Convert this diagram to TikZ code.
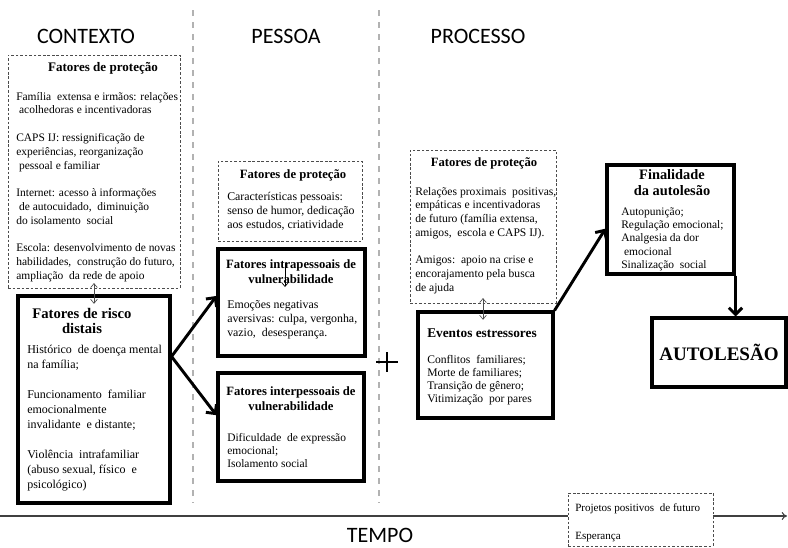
\documentclass[tikz,border=0pt]{standalone}
\usepackage{fontspec}
\setmainfont{Liberation Serif}
\newfontfamily\headfont{Carlito}
\usetikzlibrary{arrows.meta,fit}

\newcommand{\linesl}[1]{\begin{tabular}[t]{@{}l@{}}#1\end{tabular}}
\newcommand{\linesc}[1]{\begin{tabular}[t]{@{}c@{}}#1\end{tabular}}

\tikzset{
  protbox/.style={draw=black!70,dash pattern=on 2pt off 1.4pt,line width=0.6pt,inner sep=0pt},
  riskbox/.style={draw=black,line width=2.3pt,inner sep=0pt},
  head/.style={font=\headfont\fontsize{16.5}{18}\selectfont,text=black,inner sep=0pt},
  boxtitle/.style={font=\bfseries\fontsize{9.5}{11.25}\selectfont,anchor=base,inner sep=0pt},
  boxtext/.style={font=\fontsize{8.6}{10.35}\selectfont,anchor=base west,inner sep=0pt},
  bigarrow/.style={line width=2.2pt,-{Straight Barb[length=5pt,width=10pt]}},
  linkarrow/.style={line width=0.5pt,black!70,{Straight Barb[length=3pt,width=5pt]}-{Straight Barb[length=3pt,width=5pt]}},
  divider/.style={black!30,line width=0.8pt,dash pattern=on 4.5pt off 4.5pt},
}

\begin{document}
\begin{tikzpicture}[x=0.75pt,y=-0.75pt]
    \useasboundingbox (0,0) rectangle (788,547);

    % Separation
    \draw [divider] (193,10) to (193,503);
    \draw [divider] (379,10) to (379,503);
    \node (hctx) at (86,36) [head] {CONTEXTO};
    \node (hpes) at (286,36) [head] {PESSOA};
    \node (hproc) at (478,36) [head] {PROCESSO};

    % Context: protection
    \node [protbox,fit={(8,55) (180,288)}] (ctxprot) {};
    \node at (103,71) [boxtitle,font=\bfseries\fontsize{9.8}{11.25}\selectfont] {Fatores de proteção};
    \node at (16,100) [boxtext] {\linesl{%
      Família\ \ extensa e irmãos: relações\\
      \ acolhedoras e incentivadoras\\
      \\
      CAPS IJ: ressignificação de\\
      experiências, reorganização\\
      \ pessoal e familiar\\
      \\
      Internet: acesso à informações\\
      \ de autocuidado,\ \ diminuição\\
      do isolamento\ \ social\\
      \\
      Escola: desenvolvimento de novas\\
      habilidades,\ \ construção do futuro,\\
      ampliação\ \ da rede de apoio}};

    % Context: risk
    \node [riskbox,fit={(18,296) (170,503)}] (ctxrisk) {};
    \node at (82,318) [boxtitle,font=\bfseries\fontsize{11}{11.25}\selectfont] {\linesc{Fatores de risco\\distais}};
    \node at (27,353) [boxtext,font=\fontsize{9}{11.25}\selectfont] {\linesl{%
      Histórico\ \ de doença mental\\
      na família;\\
      \\
      Funcionamento\ \ familiar\\
      emocionalmente\\
      invalidante\ \ e distante;\\
      \\
      Violência\ \ intrafamiliar\\
      (abuso sexual,\ físico\ \ e\\
      psicológico)}};
    \draw [linkarrow,shorten <=-4pt,shorten >=-7pt] (ctxprot.south) to (ctxprot.south |- ctxrisk.north);

    % Person: protection
    \node [protbox,fit={(218,161) (362,241)}] (pesprot) {};
    \node at (293,178) [boxtitle] {Fatores de proteção};
    \node at (227,200) [boxtext,font=\fontsize{8.9}{10.5}\selectfont] {\linesl{%
      Características pessoais:\\
      senso de humor, dedicação\\
      aos estudos, criatividade}};

    % Person: intrapersonal
    \node [riskbox,fit={(218,249) (365,356)}] (intra) {};
    \node at (291,268) [boxtitle] {\linesc{Fatores intrapessoais de\\vulnerabilidade}};
    \node at (227,308) [boxtext,font=\fontsize{8.9}{10.5}\selectfont] {\linesl{%
      Emoções negativas\\
      aversivas: culpa, vergonha,\\
      vazio,\ \ desesperança.}};
    \coordinate (intrarrow) at (285,263);
    \draw [line width=0.5pt,-{Straight Barb[length=3pt,width=5pt]}] (intrarrow) to ++(0,24);

    % Person: interpersonal
    \node [riskbox,fit={(218,373) (364,481)}] (inter) {};
    \node at (291,395) [boxtitle] {\linesc{Fatores interpessoais de\\vulnerabilidade}};
    \node at (227,441) [boxtext,font=\fontsize{8.6}{10.1}\selectfont] {\linesl{%
      Dificuldade\ \ de expressão\\
      emocional;\\
      Isolamento social}};

    \draw [bigarrow] (ctxrisk.29) to (intra.175);
    \draw [bigarrow] (ctxrisk.29) to (inter.171);

    % Plus
    \coordinate (plus) at (387,362);
    \draw [line width=2.2pt] (plus) ++(-11,0) to ++(22,0);
    \draw [line width=2.2pt] (plus) ++(0,-10) to ++(0,20);

    % Process: protection
    \node [protbox,fit={(410,150) (556,303)}] (procprot) {};
    \node at (484,166) [boxtitle] {Fatores de proteção};
    \node at (415,195) [boxtext,font=\fontsize{8.7}{10.3}\selectfont] {\linesl{%
      Relações proximais\ \ positivas,\\
      empáticas e incentivadoras\\
      de futuro (família extensa,\\
      amigos,\ \ escola e CAPS IJ).\\
      \\
      Amigos:\ \ apoio na crise e\\
      encorajamento pela busca\\
      de ajuda}};

    % Process: stressors
    \node [riskbox,fit={(418,312) (553,418)}] (events) {};
    \node at (482,337) [boxtitle,font=\bfseries\fontsize{10}{11}\selectfont] {Eventos estressores};
    \node at (427,363) [boxtext,font=\fontsize{8.7}{9.75}\selectfont] {\linesl{%
      Conflitos\ \ familiares;\\
      Morte de familiares;\\
      Transição de gênero;\\
      Vitimização\ \ por pares}};
    \draw [linkarrow,shorten <=-4pt,shorten >=-7pt] (procprot.south) to (procprot.south |- events.north);

    % Purpose
    \node [riskbox,fit={(607,165) (734,274)}] (purpose) {};
    \node at (672,179) [boxtitle,font=\bfseries\fontsize{10.8}{12}\selectfont] {\linesc{Finalidade\\da autolesão}};
    \node at (621,215) [boxtext,font=\fontsize{8.6}{10}\selectfont] {\linesl{%
      Autopunição;\\
      Regulação emocional;\\
      Analgesia da dor\\
      \ emocional\\
      Sinalização\ \ social}};
    \draw [bigarrow] (events.north east) to (purpose.188);

    % Self-harm
    \node [riskbox,fit={(652,318) (786,387)}] (selfharm) {};
    \node at (selfharm.center) [font=\bfseries\fontsize{14.3}{16}\selectfont] {AUTOLESÃO};
    \draw [bigarrow] (purpose.south east) to (purpose.south east |- selfharm.north);

    % Time line
    \coordinate (tstart) at (0,516);
    \coordinate (tend) at (787,516);
    \draw [black!75,line width=0.8pt,-{To[length=4pt,width=6pt]}] (tstart) to (tend);
    \node [protbox,fill=white,fit={(568,493) (713,546)}] (hope) {};
    \node at (575,511) [boxtext,font=\fontsize{8.3}{21}\selectfont] {\linesl{%
      Projetos positivos\ \ de futuro\\
      Esperança}};
    \node (htime) at (380,535) [head] {TEMPO};
\end{tikzpicture}
\end{document}
